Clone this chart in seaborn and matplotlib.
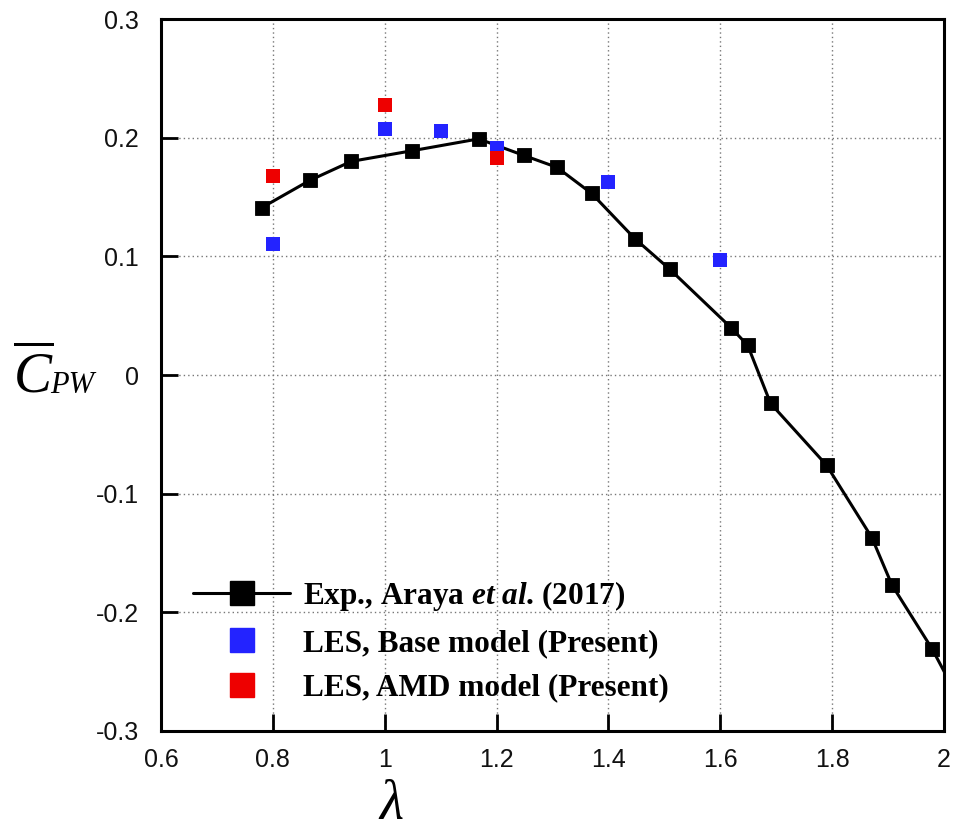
import numpy as np
import pandas as pd
import matplotlib
matplotlib.use("Agg")
import matplotlib.pyplot as plt
from matplotlib.lines import Line2D
import seaborn as sns

# Experimental power coefficient vs tip-speed ratio (Araya et al. 2017)
lam_exp = [0.78, 0.866, 0.94, 1.049, 1.168, 1.249, 1.308, 1.370, 1.447, 1.51,
           1.619, 1.649, 1.690, 1.790, 1.871, 1.907, 1.979, 2.05]
cp_exp = [0.141, 0.164, 0.180, 0.189, 0.199, 0.185, 0.175, 0.153, 0.115, 0.089,
          0.040, 0.025, -0.024, -0.076, -0.137, -0.177, -0.231, -0.294]

# LES, base subgrid model
lam_base = [0.8, 1.0, 1.1, 1.2, 1.4, 1.6]
cp_base = [0.110, 0.207, 0.206, 0.191, 0.163, 0.097]

# LES, AMD subgrid model
lam_amd = [0.8, 1.0, 1.2]
cp_amd = [0.168, 0.2275, 0.183]

x_ticks = [0.6, 0.8, 1.0, 1.2, 1.4, 1.6, 1.8, 2.0]
x_ticklabels = ["0.6", "0.8", "1", "1.2", "1.4", "1.6", "1.8", "2"]
y_ticks = [-0.3, -0.2, -0.1, 0.0, 0.1, 0.2, 0.3]
y_ticklabels = ["-0.3", "-0.2", "-0.1", "0", "0.1", "0.2", "0.3"]

legend_labels = [
    r"Exp., Araya $\mathbfit{et\ al}$. (2017)",
    "LES, Base model (Present)",
    "LES, AMD model (Present)",
]

BLUE = "#2323ff"
RED = "#ee0000"

sns.set_style("ticks")
plt.rcParams["font.family"] = ["Liberation Sans", "DejaVu Sans"]
plt.rcParams["text.color"] = "black"
plt.rcParams["mathtext.fontset"] = "custom"
plt.rcParams["mathtext.rm"] = "Liberation Serif"
plt.rcParams["mathtext.it"] = "Liberation Serif:italic"
plt.rcParams["mathtext.bf"] = "Liberation Serif:bold"
plt.rcParams["mathtext.bfit"] = "Liberation Serif:italic:bold"

df_exp = pd.DataFrame({"lam": lam_exp, "cp": cp_exp})
df_base = pd.DataFrame({"lam": lam_base, "cp": cp_base})
df_amd = pd.DataFrame({"lam": lam_amd, "cp": cp_amd})

fig = plt.figure(figsize=(9.54, 8.38), dpi=100)
ax = fig.add_axes([0.1688, 0.1277, 0.8207, 0.8496])

sns.lineplot(data=df_exp, x="lam", y="cp", sort=False, color="black",
             linewidth=2.2, marker="s", markersize=10, markeredgecolor="black",
             markeredgewidth=0.6, ax=ax, zorder=3, legend=False)
sns.scatterplot(data=df_base, x="lam", y="cp", color=BLUE, marker="s", s=95,
                linewidth=0, ax=ax, zorder=4, legend=False)
sns.scatterplot(data=df_amd, x="lam", y="cp", color=RED, marker="s", s=95,
                linewidth=0, ax=ax, zorder=5, legend=False)

ax.set_xlim(0.6, 2.0)
ax.set_ylim(-0.3, 0.3)
ax.set_xticks(x_ticks)
ax.set_xticklabels(x_ticklabels)
ax.set_yticks(y_ticks)
ax.set_yticklabels(y_ticklabels)
ax.set_xlabel("")
ax.set_ylabel("")

ax.grid(True, color="#777777", linestyle=(0, (1, 2.2)), linewidth=1.0)
ax.set_axisbelow(True)

for side in ["top", "bottom", "left", "right"]:
    ax.spines[side].set_visible(True)
    ax.spines[side].set_color("black")
    ax.spines[side].set_linewidth(2.2)

ax.tick_params(axis="both", direction="in", length=12, width=2,
               colors="black", labelcolor="#111111", labelsize=18,
               top=False, right=False)
ax.tick_params(axis="x", pad=12)
ax.tick_params(axis="y", pad=16)

# Axis titles
fig.text(13 / 954, 1 - 393 / 838, r"$\overline{C}$", fontsize=41,
         color="black", ha="left", va="baseline")
fig.text(50 / 954, 1 - 393 / 838, "PW", fontsize=22, fontstyle="italic",
         family="Liberation Serif", color="black", ha="left", va="baseline")
fig.text(391 / 954, 1 - 819 / 838, "\u03bb", fontsize=40, fontstyle="italic",
         family="Liberation Serif", color="black", ha="center", va="baseline")

handles = [
    Line2D([], [], color="black", linewidth=2.2, marker="s", markersize=17),
    Line2D([], [], color=BLUE, linestyle="none", marker="s", markersize=17),
    Line2D([], [], color=RED, linestyle="none", marker="s", markersize=17),
]
leg = ax.legend(handles, legend_labels, loc="lower left",
                bbox_to_anchor=(0.041, 0.040), frameon=False, borderpad=0,
                borderaxespad=0, handlelength=3.1, handletextpad=0.42,
                labelspacing=0.5,
                prop={"family": "Liberation Serif", "weight": "bold", "size": 22.5})
for t in leg.get_texts():
    t.set_color("black")

fig.savefig("out.png", dpi=100)
